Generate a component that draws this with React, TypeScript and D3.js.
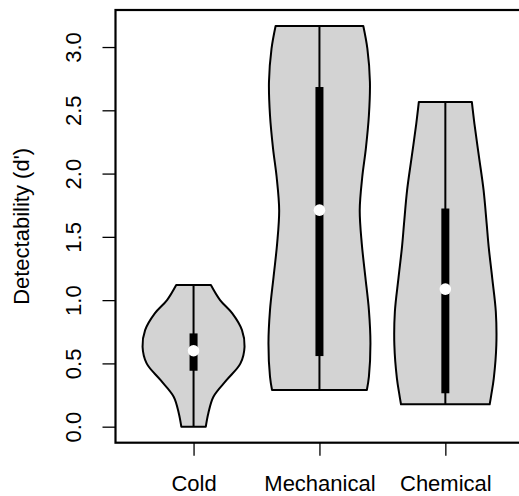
import React, { useEffect, useRef } from "react";
import * as d3 from "d3";

// categories and summary stats
const categories = ["Cold", "Mechanical", "Chemical"];
const mins = [0.0, 0.29, 0.177];
const maxs = [1.119, 3.166, 2.566];
const q1s = [0.442, 0.558, 0.264];
const q3s = [0.737, 2.684, 1.724];
const medians = [0.6, 1.711, 1.087];

// violin outlines: d' level and relative density width (1 = widest)
const coldLevels = [1.119, 1.0, 0.895, 0.763, 0.632, 0.5, 0.369, 0.237, 0.106, 0.0];
const coldWidths = [0.34, 0.52, 0.76, 0.95, 1.0, 0.92, 0.65, 0.39, 0.29, 0.24];
const mechLevels = [3.166, 2.987, 2.724, 2.461, 2.198, 1.975, 1.711, 1.447, 1.184, 0.921, 0.658, 0.395, 0.29];
const mechWidths = [0.86, 0.94, 0.99, 0.97, 0.91, 0.84, 0.79, 0.83, 0.9, 0.97, 1.0, 0.97, 0.93];
const chemLevels = [2.566, 2.395, 2.132, 1.869, 1.606, 1.421, 1.172, 0.908, 0.645, 0.382, 0.25, 0.177];
const chemWidths = [0.52, 0.57, 0.66, 0.75, 0.81, 0.85, 0.92, 0.99, 1.0, 0.95, 0.9, 0.87];

const yTicks = [0, 0.5, 1, 1.5, 2, 2.5, 3];
const yLabel = "Detectability (d')";

const App = () => {
  const svgRef = useRef<SVGSVGElement>(null);

  useEffect(() => {
    const width = 519;
    const height = 496;
    const font = "'Liberation Sans', Arial, Helvetica, sans-serif";
    const fontSize = "22px";

    const svg = d3.select(svgRef.current).attr("width", width).attr("height", height);
    svg.selectAll("*").remove();

    // R style: xlim 0.5..3.5 and ylim 0..max, each padded by 4%
    const x = d3.scaleLinear().domain([0.38, 3.62]).range([115.5, 523.4]);
    const yMax = d3.max(maxs) as number;
    const pad = yMax * 0.04;
    const y = d3.scaleLinear().domain([-pad, yMax + pad]).range([442.7, 10]);

    const violins = [
      { levels: coldLevels, widths: coldWidths },
      { levels: mechLevels, widths: mechWidths },
      { levels: chemLevels, widths: chemWidths },
    ];
    const halfWidth = 0.405;

    violins.forEach((v, i) => {
      const pos = i + 1;
      const pts = v.levels.map((l, j) => [l, v.widths[j]] as [number, number]);
      const area = d3
        .area<[number, number]>()
        .y((d) => y(d[0]))
        .x0((d) => x(pos - halfWidth * d[1]))
        .x1((d) => x(pos + halfWidth * d[1]))
        .curve(d3.curveCatmullRom);

      svg
        .append("path")
        .attr("d", area(pts))
        .attr("fill", "#d3d3d3")
        .attr("stroke", "#000")
        .attr("stroke-width", 2)
        .attr("stroke-linejoin", "round");

      // whisker min..max
      svg
        .append("line")
        .attr("x1", x(pos))
        .attr("x2", x(pos))
        .attr("y1", y(mins[i]))
        .attr("y2", y(maxs[i]))
        .attr("stroke", "#000")
        .attr("stroke-width", 2);

      // IQR box
      svg
        .append("rect")
        .attr("x", x(pos) - 4)
        .attr("width", 8)
        .attr("y", y(q3s[i]))
        .attr("height", y(q1s[i]) - y(q3s[i]))
        .attr("fill", "#000");

      svg
        .append("circle")
        .attr("cx", x(pos))
        .attr("cy", y(medians[i]))
        .attr("r", 5.8)
        .attr("fill", "#fff");
    });

    // y axis, labels turned like R's las=0
    const yAxis = svg
      .append("g")
      .attr("transform", "translate(115.5,0)")
      .call(d3.axisLeft(y).tickValues(yTicks).tickSize(13).tickFormat(d3.format(".1f")));
    yAxis.select(".domain").remove();
    yAxis.selectAll("line").attr("stroke", "#000").attr("stroke-width", 1.3);
    yAxis
      .selectAll("text")
      .attr("x", 0)
      .attr("y", -35)
      .attr("dy", null)
      .attr("text-anchor", "middle")
      .attr("transform", "rotate(-90)")
      .attr("fill", "#000")
      .style("font-family", font)
      .style("font-size", fontSize);

    // x axis
    const xAxis = svg
      .append("g")
      .attr("transform", "translate(0,442.7)")
      .call(
        d3
          .axisBottom(x)
          .tickValues([1, 2, 3])
          .tickSize(13)
          .tickFormat((d, i) => categories[i])
      );
    xAxis.select(".domain").remove();
    xAxis.selectAll("line").attr("stroke", "#000").attr("stroke-width", 1.3);
    xAxis
      .selectAll("text")
      .attr("y", 48.5)
      .attr("dy", null)
      .attr("fill", "#000")
      .style("font-family", font)
      .style("font-size", fontSize);

    // plot frame
    svg
      .append("rect")
      .attr("x", 115.5)
      .attr("y", 10)
      .attr("width", 523.4 - 115.5)
      .attr("height", 442.7 - 10)
      .attr("fill", "none")
      .attr("stroke", "#000")
      .attr("stroke-width", 2.2);

    // axis title
    svg
      .append("text")
      .attr("transform", `translate(28.5,${(10 + 442.7) / 2}) rotate(-90)`)
      .attr("text-anchor", "middle")
      .style("font-family", font)
      .style("font-size", fontSize)
      .text(yLabel);
  }, []);

  return (
    <div style={{ position: "absolute", left: 0, top: 0 }}>
      <svg ref={svgRef}></svg>
    </div>
  );
};

export default App;
